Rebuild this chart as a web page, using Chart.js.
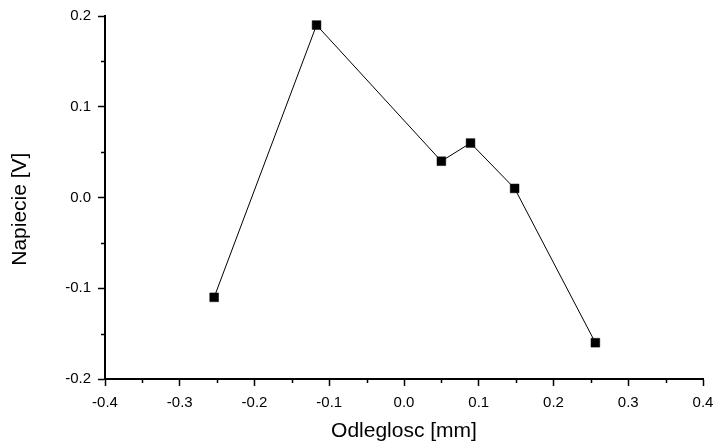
<!DOCTYPE html>
<html>
<head>
<meta charset="utf-8">
<script src="https://cdn.jsdelivr.net/npm/chart.js@4/dist/chart.umd.min.js"></script>
<style>
  html, body { margin: 0; padding: 0; background: #fff; }
  #wrap { width: 716px; height: 445px; }
</style>
</head>
<body>
<div id="wrap"><canvas id="c" width="716" height="445"></canvas></div>
<script>
// Measured distance and voltage
const distanceMm = [-0.254, -0.117, 0.05, 0.089, 0.148, 0.256];
const voltageV = [-0.11, 0.19, 0.04, 0.06, 0.01, -0.16];

const xTicks = [-0.4, -0.3, -0.2, -0.1, 0.0, 0.1, 0.2, 0.3, 0.4];
const yTicks = [-0.2, -0.1, 0.0, 0.1, 0.2];
const xMinorTicks = [-0.35, -0.25, -0.15, -0.05, 0.05, 0.15, 0.25, 0.35];
const yMinorTicks = [-0.15, -0.05, 0.05, 0.15];

const FONT = "'Liberation Sans', Arial, sans-serif";

// Short minor tick marks outside the plot area
const minorTicks = {
  id: 'minorTicks',
  afterDraw(chart) {
    const ctx = chart.ctx;
    const xs = chart.scales.x, ys = chart.scales.y;
    const area = chart.chartArea;
    ctx.save();
    ctx.strokeStyle = '#000';
    ctx.lineWidth = 1.5;
    ctx.beginPath();
    xMinorTicks.forEach(v => {
      const px = Math.round(xs.getPixelForValue(v)) + 0.5;
      ctx.moveTo(px, area.bottom);
      ctx.lineTo(px, area.bottom + 4);
    });
    yMinorTicks.forEach(v => {
      const py = Math.round(ys.getPixelForValue(v)) + 0.5;
      ctx.moveTo(area.left, py);
      ctx.lineTo(area.left - 4, py);
    });
    ctx.stroke();
    ctx.restore();
  }
};

const fmt = v => (Math.abs(v) < 1e-9 ? 0 : v).toFixed(1);

new Chart(document.getElementById('c'), {
  type: 'line',
  data: {
    datasets: [{
      data: distanceMm.map((x, i) => ({ x, y: voltageV[i] })),
      borderColor: '#000',
      borderWidth: 1,
      backgroundColor: '#000',
      pointStyle: 'rect',
      pointRadius: 6.2,
      pointBorderWidth: 0.5,
      pointBorderColor: '#000',
      pointBackgroundColor: '#000',
      tension: 0,
      fill: false
    }]
  },
  options: {
    responsive: false,
    animation: false,
    events: [],
    layout: { padding: { top: 14, right: 13, left: 0, bottom: 0 } },
    plugins: { legend: { display: false }, tooltip: { enabled: false } },
    scales: {
      x: {
        type: 'linear',
        min: -0.4, max: 0.4,
        afterBuildTicks: s => { s.ticks = xTicks.map(v => ({ value: v })); },
        afterFit: s => { s.height = 66; s.paddingRight = 0; s.paddingLeft = 0; },
        grid: { drawOnChartArea: false, drawTicks: true, tickLength: 7, tickWidth: 1.5, tickColor: '#000' },
        border: { display: true, color: '#000', width: 2 },
        ticks: {
          color: '#000', padding: 8, maxRotation: 0, autoSkip: false,
          font: { family: FONT, size: 15 },
          callback: v => fmt(v)
        },
        title: {
          display: true, text: 'Odleglosc [mm]', color: '#000',
          font: { family: FONT, size: 21 }, padding: { top: 0, bottom: 1 }
        }
      },
      y: {
        type: 'linear',
        min: -0.2, max: 0.2,
        afterBuildTicks: s => { s.ticks = yTicks.map(v => ({ value: v })); },
        afterFit: s => { s.width = 105; },
        grid: { drawOnChartArea: false, drawTicks: true, tickLength: 7, tickWidth: 1.5, tickColor: '#000' },
        border: { display: true, color: '#000', width: 2 },
        ticks: {
          color: '#000', padding: 7, autoSkip: false,
          font: { family: FONT, size: 15 },
          callback: v => fmt(v)
        },
        title: {
          display: true, text: 'Napiecie [V]    ', color: '#000',
          font: { family: FONT, size: 21 }, padding: { top: 8, bottom: 0 }
        }
      }
    }
  },
  plugins: [minorTicks]
});
</script>
</body>
</html>
